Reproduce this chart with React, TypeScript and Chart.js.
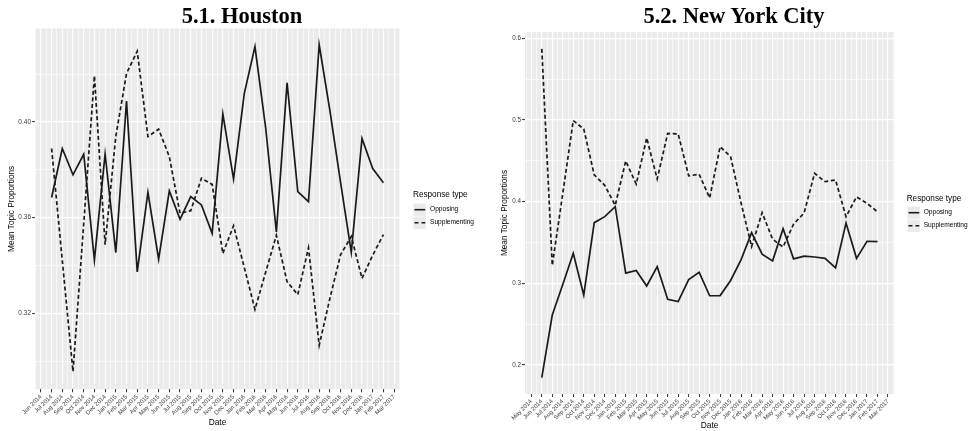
import React, { useEffect, useRef } from "react";
import { Chart, registerables } from "chart.js";

Chart.register(...registerables);

const FONT = "'Liberation Sans', Arial, Helvetica, sans-serif";
const SERIF = "'Liberation Serif', 'Times New Roman', serif";

// ---------------- Houston ----------------
const houstonMonths = [
  "Jun 2014", "Jul 2014", "Aug 2014", "Sep 2014", "Oct 2014", "Nov 2014", "Dec 2014",
  "Jan 2015", "Feb 2015", "Mar 2015", "Apr 2015", "May 2015", "Jun 2015", "Jul 2015",
  "Aug 2015", "Sep 2015", "Oct 2015", "Nov 2015", "Dec 2015", "Jan 2016", "Feb 2016",
  "Mar 2016", "Apr 2016", "May 2016", "Jun 2016", "Jul 2016", "Aug 2016", "Sep 2016",
  "Oct 2016", "Nov 2016", "Dec 2016", "Jan 2017", "Feb 2017", "Mar 2017",
];
// data runs Jul 2014 .. Feb 2017
const houstonOpposing = [
  0.3684, 0.3889, 0.3779, 0.3865, 0.3423, 0.3866, 0.3454, 0.4088, 0.3373, 0.3706,
  0.3426, 0.3712, 0.3593, 0.3688, 0.3653, 0.3534, 0.4033, 0.3761, 0.4119, 0.4315,
  0.3975, 0.354, 0.4164, 0.3709, 0.3667, 0.4323, 0.4048, 0.3746, 0.3455, 0.3931,
  0.3805, 0.3746,
];
const houstonSupplementing = [
  0.3889, 0.3421, 0.2956, 0.3574, 0.4193, 0.3487, 0.394, 0.4203, 0.4296, 0.3939,
  0.397, 0.3855, 0.3618, 0.3629, 0.3765, 0.3739, 0.345, 0.3566, 0.3392, 0.3216,
  0.3372, 0.3526, 0.3332, 0.3278, 0.3474, 0.3066, 0.3262, 0.3445, 0.3521, 0.3346,
  0.3443, 0.3529,
];
const houstonYMajor = [0.32, 0.36, 0.4];
const houstonYLabels = ["0.32", "0.36", "0.40"];
const houstonYMinor = [0.3, 0.34, 0.38, 0.42];

// ---------------- New York City ----------------
const nycMonths = [
  "May 2014", "Jun 2014", "Jul 2014", "Aug 2014", "Sep 2014", "Oct 2014", "Nov 2014",
  "Dec 2014", "Jan 2015", "Feb 2015", "Mar 2015", "Apr 2015", "May 2015", "Jun 2015",
  "Jul 2015", "Aug 2015", "Sep 2015", "Oct 2015", "Nov 2015", "Dec 2015", "Jan 2016",
  "Feb 2016", "Mar 2016", "Apr 2016", "May 2016", "Jun 2016", "Jul 2016", "Aug 2016",
  "Sep 2016", "Oct 2016", "Nov 2016", "Dec 2016", "Jan 2017", "Feb 2017", "Mar 2017",
];
// data runs Jun 2014 .. Feb 2017
const nycOpposing = [
  0.1845, 0.2612, 0.2985, 0.3367, 0.2857, 0.3743, 0.3816, 0.3939, 0.3125, 0.3158,
  0.2967, 0.3204, 0.2804, 0.2776, 0.3045, 0.3135, 0.2848, 0.285, 0.3035, 0.329,
  0.362, 0.3357, 0.3275, 0.3668, 0.3299, 0.3333, 0.3322, 0.3305, 0.3188, 0.3738,
  0.3306, 0.3515, 0.351,
];
const nycSupplementing = [
  0.587, 0.322, 0.41, 0.4992, 0.489, 0.4327, 0.42, 0.3955, 0.4498, 0.4215,
  0.478, 0.4278, 0.4835, 0.483, 0.4316, 0.4335, 0.4045, 0.4673, 0.455, 0.398,
  0.3449, 0.3865, 0.354, 0.3445, 0.3725, 0.386, 0.4347, 0.4245, 0.4266, 0.3816,
  0.4058, 0.398, 0.3875,
];
const nycYMajor = [0.2, 0.3, 0.4, 0.5, 0.6];
const nycYLabels = ["0.2", "0.3", "0.4", "0.5", "0.6"];
const nycYMinor = [0.25, 0.35, 0.45, 0.55];

const seriesNames = ["Opposing", "Supplementing"];
const legendTitle = "Response type";
const xTitleText = "Date";
const yTitleText = "Mean Topic Proportions";

const LINE_COLOR = "#1a1a1a";
const DASH = [4, 2.6];
const TICK_TEXT = "#3a3a3a";

const panelBg = {
  id: "panelBg",
  beforeDraw(chart: any) {
    const { ctx, chartArea: a } = chart;
    ctx.save();
    ctx.fillStyle = "#EBEBEB";
    ctx.fillRect(a.left, a.top, a.right - a.left, a.bottom - a.top);
    ctx.restore();
  },
};

type PanelProps = {
  left: number;
  width: number;
  height: number;
  area: { left: number; right: number; top: number; bottom: number };
  months: string[];
  opposing: number[];
  supplementing: number[];
  yMajor: number[];
  yLabels: string[];
  yMinor: number[];
  xMin: number;
  xMax: number;
  yMin: number;
  yMax: number;
  yTitlePad: number;
  xTitlePad: number;
  yTickSize: number;
};

function Panel(p: PanelProps) {
  const ref = useRef<HTMLCanvasElement>(null);
  useEffect(() => {
    const canvas = ref.current as HTMLCanvasElement;
    const majorIdx = (v: number) => p.yMajor.findIndex((m) => Math.abs(m - v) < 1e-9);
    const xIsMajor = (v: any) => typeof v === "number" && Number.isInteger(v);
    const chart = new Chart(canvas, {
      type: "line",
      data: {
        datasets: [
          {
            label: seriesNames[0],
            data: p.opposing.map((y, i) => ({ x: i, y })),
            borderColor: LINE_COLOR,
            borderWidth: 1.7,
            pointRadius: 0,
            tension: 0,
            fill: false,
          },
          {
            label: seriesNames[1],
            data: p.supplementing.map((y, i) => ({ x: i, y })),
            borderColor: LINE_COLOR,
            borderWidth: 1.7,
            borderDash: DASH,
            pointRadius: 0,
            tension: 0,
            fill: false,
          },
        ],
      },
      options: {
        responsive: false,
        animation: false,
        devicePixelRatio: 1,
        layout: {
          padding: { left: 0, top: p.area.top, right: p.width - p.area.right, bottom: 0 },
        },
        plugins: {
          legend: { display: false },
          tooltip: { enabled: false },
          title: { display: false },
        },
        scales: {
          x: {
            type: "linear",
            min: p.xMin,
            max: p.xMax,
            afterBuildTicks: (scale: any) => {
              const t: any[] = [];
              for (let k = 0; k <= p.months.length * 2 + 2; k++) {
                const v = -1.5 + k * 0.5;
                if (v >= p.xMin && v <= p.xMax) t.push({ value: v });
              }
              scale.ticks = t;
            },
            afterFit: (scale: any) => {
              scale.height = p.height - p.area.bottom;
            },
            ticks: {
              autoSkip: false,
              minRotation: 45,
              maxRotation: 45,
              padding: 1,
              color: TICK_TEXT,
              font: { family: FONT, size: 6 },
              callback: (v: any) => (xIsMajor(v) ? p.months[v + 1] ?? "" : ""),
            },
            grid: {
              color: "#FFFFFF",
              lineWidth: (ctx: any) => (xIsMajor(ctx.tick?.value) ? 1.1 : 0.6),
              drawTicks: true,
              tickLength: 3,
              tickWidth: 1,
              tickColor: (ctx: any) => (xIsMajor(ctx.tick?.value) ? "#333333" : "rgba(0,0,0,0)"),
            },
            border: { display: false },
            title: {
              display: true,
              text: xTitleText,
              color: "#000000",
              font: { family: FONT, size: 8.4, lineHeight: 1.2 },
              padding: { top: 0, bottom: p.xTitlePad },
            },
          },
          y: {
            type: "linear",
            min: p.yMin,
            max: p.yMax,
            afterBuildTicks: (scale: any) => {
              scale.ticks = [...p.yMinor, ...p.yMajor]
                .sort((a, b) => a - b)
                .map((v) => ({ value: v }));
            },
            afterFit: (scale: any) => {
              scale.width = p.area.left;
            },
            ticks: {
              autoSkip: false,
              padding: 1,
              color: TICK_TEXT,
              font: { family: FONT, size: p.yTickSize },
              callback: (v: any) => {
                const i = majorIdx(v);
                return i >= 0 ? p.yLabels[i] : "";
              },
            },
            grid: {
              color: "#FFFFFF",
              lineWidth: (ctx: any) => (majorIdx(ctx.tick?.value) >= 0 ? 1.2 : 0.6),
              drawTicks: true,
              tickLength: 3,
              tickWidth: 1,
              tickColor: (ctx: any) =>
                majorIdx(ctx.tick?.value) >= 0 ? "#333333" : "rgba(0,0,0,0)",
            },
            border: { display: false },
            title: {
              display: true,
              text: yTitleText,
              color: "#000000",
              font: { family: FONT, size: 8.2, lineHeight: 1.2 },
              padding: { top: p.yTitlePad, bottom: 0 },
            },
          },
        },
      } as any,
      plugins: [panelBg],
    });
    return () => chart.destroy();
  }, []);
  return (
    <canvas
      ref={ref}
      width={p.width}
      height={p.height}
      style={{ position: "absolute", left: p.left, top: 0, width: p.width, height: p.height }}
    />
  );
}

function Legend({ x, titleTop, keyTop }: { x: number; titleTop: number; keyTop: number }) {
  const kw = 13.3;
  const kh = 13.4;
  return (
    <>
      <div
        style={{
          position: "absolute",
          left: x,
          top: titleTop,
          fontFamily: FONT,
          fontSize: 8.2,
          lineHeight: "8.2px",
          color: "#000",
          whiteSpace: "nowrap",
        }}
      >
        {legendTitle}
      </div>
      {seriesNames.map((name, i) => {
        const top = keyTop + i * kh;
        return (
          <React.Fragment key={name}>
            <svg
              style={{ position: "absolute", left: x, top }}
              width={kw}
              height={kh}
              viewBox={`0 0 ${kw} ${kh}`}
            >
              <rect x={0} y={0} width={kw} height={kh} fill="#EBEBEB" stroke="#FFFFFF" strokeWidth={1} />
              <line
                x1={1.5}
                x2={kw - 1}
                y1={kh / 2}
                y2={kh / 2}
                stroke={LINE_COLOR}
                strokeWidth={1.6}
                strokeDasharray={i === 1 ? "4 3" : undefined}
              />
            </svg>
            <div
              style={{
                position: "absolute",
                left: x + 17,
                top,
                height: kh,
                display: "flex",
                alignItems: "center",
                fontFamily: FONT,
                fontSize: 6.6,
                lineHeight: "6.6px",
                color: "#000",
                whiteSpace: "nowrap",
              }}
            >
              {name}
            </div>
          </React.Fragment>
        );
      })}
    </>
  );
}

function Title({ cx, text }: { cx: number; text: string }) {
  return (
    <div
      style={{
        position: "absolute",
        left: cx - 200,
        width: 400,
        top: 4.5,
        textAlign: "center",
        fontFamily: SERIF,
        fontWeight: 700,
        fontSize: 22.5,
        lineHeight: "22.5px",
        color: "#000",
        whiteSpace: "nowrap",
      }}
    >
      {text}
    </div>
  );
}

export default function App() {
  useEffect(() => {
    document.body.style.margin = "0";
  }, []);
  return (
    <div
      style={{
        position: "absolute",
        left: 0,
        top: 0,
        width: 971,
        height: 431,
        background: "#FFFFFF",
        overflow: "hidden",
      }}
    >
      <Panel
        left={0}
        width={490}
        height={431}
        area={{ left: 35, right: 400, top: 28.5, bottom: 389.3 }}
        months={houstonMonths}
        opposing={houstonOpposing}
        supplementing={houstonSupplementing}
        yMajor={houstonYMajor}
        yLabels={houstonYLabels}
        yMinor={houstonYMinor}
        xMin={-1.55}
        xMax={32.55}
        yMin={0.2882}
        yMax={0.4391}
        yTitlePad={6.7}
        xTitlePad={3.3}
        yTickSize={6.5}
      />
      <Panel
        left={490}
        width={481}
        height={431}
        area={{ left: 35, right: 404.3, top: 32, bottom: 394 }}
        months={nycMonths}
        opposing={nycOpposing}
        supplementing={nycSupplementing}
        yMajor={nycYMajor}
        yLabels={nycYLabels}
        yMinor={nycYMinor}
        xMin={-1.6}
        xMax={33.6}
        yMin={0.1645}
        yMax={0.6077}
        yTitlePad={10}
        xTitlePad={0}
        yTickSize={6.3}
      />
      <Title cx={242} text="5.1. Houston" />
      <Title cx={734} text="5.2. New York City" />
      <Legend x={413} titleTop={190.6} keyTop={202.6} />
      <Legend x={906.7} titleTop={194.9} keyTop={205.6} />
    </div>
  );
}
